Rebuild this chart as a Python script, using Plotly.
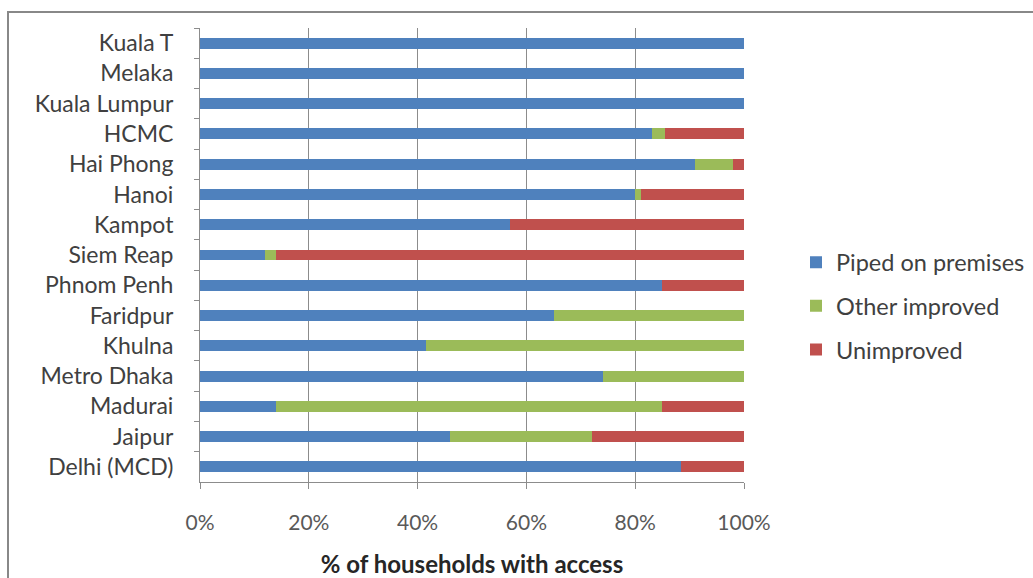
import plotly.graph_objects as go

# Share of households by water source, per city (top to bottom)
cities = ["Kuala T", "Melaka", "Kuala Lumpur", "HCMC", "Hai Phong", "Hanoi",
          "Kampot", "Siem Reap", "Phnom Penh", "Faridpur", "Khulna",
          "Metro Dhaka", "Madurai", "Jaipur", "Delhi (MCD)"]
piped = [100, 100, 100, 83, 91, 80, 57, 12, 85, 65, 41.5, 74, 14, 46, 88.5]
other_improved = [0, 0, 0, 2.5, 7, 1, 0, 2, 0, 35, 58.5, 26, 71, 26, 0]
unimproved = [0, 0, 0, 14.5, 2, 19, 43, 86, 15, 0, 0, 0, 15, 28, 11.5]

series_names = ["Piped on premises", "Other improved", "Unimproved"]
series_values = [piped, other_improved, unimproved]
series_colors = ["#4F81BD", "#9BBB59", "#C0504D"]

x_ticks = [0, 20, 40, 60, 80, 100]
x_tick_labels = ["0%", "20%", "40%", "60%", "80%", "100%"]

FONT = "Lato"
TEXT = "#404040"
GRID = "#8C8C8C"

W, H = 1033, 578
ML, MR, MT, MB = 200, 289, 28, 96

fig = go.Figure()
for name, vals, col in zip(series_names, series_values, series_colors):
    fig.add_trace(go.Bar(
        y=cities, x=vals, name=name, orientation="h",
        marker=dict(color=col, line=dict(width=0)),
        legendgroup=name, hoverinfo="x+y+name",
    ))

# outer chart frame (runs off the right and bottom edges)
pw, ph = W - ML - MR, H - MT - MB
def px_to_paper_x(px):
    return (px - ML) / pw
def px_to_paper_y(py):
    return (H - MB - py) / ph

fig.add_shape(type="rect", xref="paper", yref="paper",
              x0=px_to_paper_x(8), x1=px_to_paper_x(W + 20),
              y0=px_to_paper_y(H + 20), y1=px_to_paper_y(12),
              line=dict(color="#888888", width=2), fillcolor="rgba(0,0,0,0)",
              layer="below")

fig.update_layout(
    width=W, height=H,
    margin=dict(l=ML, r=MR, t=MT, b=MB, autoexpand=False),
    barmode="stack", bargap=0.64,
    plot_bgcolor="white", paper_bgcolor="white",
    font=dict(family=FONT, color=TEXT, size=23),
    showlegend=True,
    legend=dict(
        x=px_to_paper_x(796), xanchor="left", xref="paper",
        y=px_to_paper_y(306), yanchor="middle",
        traceorder="grouped", tracegroupgap=10,
        font=dict(family=FONT, size=23.5, color=TEXT),
        itemwidth=30, bgcolor="rgba(0,0,0,0)",
    ),
    xaxis=dict(
        range=[0, 100], tickvals=x_ticks, ticktext=x_tick_labels,
        showgrid=True, gridcolor=GRID, gridwidth=1,
        showline=True, linecolor=GRID, linewidth=1,
        ticks="outside", ticklen=6, tickcolor=GRID,
        ticklabelstandoff=16, zeroline=False, automargin=False,
        tickfont=dict(family=FONT, size=21, color="#595959"),
        title=dict(text="<b>% of households with access</b>",
                   font=dict(family=FONT, size=24, color="#262626"),
                   standoff=24),
    ),
    yaxis=dict(
        autorange="reversed", type="category", automargin=False,
        showline=True, linecolor=GRID, linewidth=1,
        ticks="outside", ticklen=5, tickcolor=GRID, tickson="boundaries",
        ticklabelstandoff=21, showgrid=False,
        tickfont=dict(family=FONT, size=23, color=TEXT),
    ),
)

fig.write_html("out.html")
